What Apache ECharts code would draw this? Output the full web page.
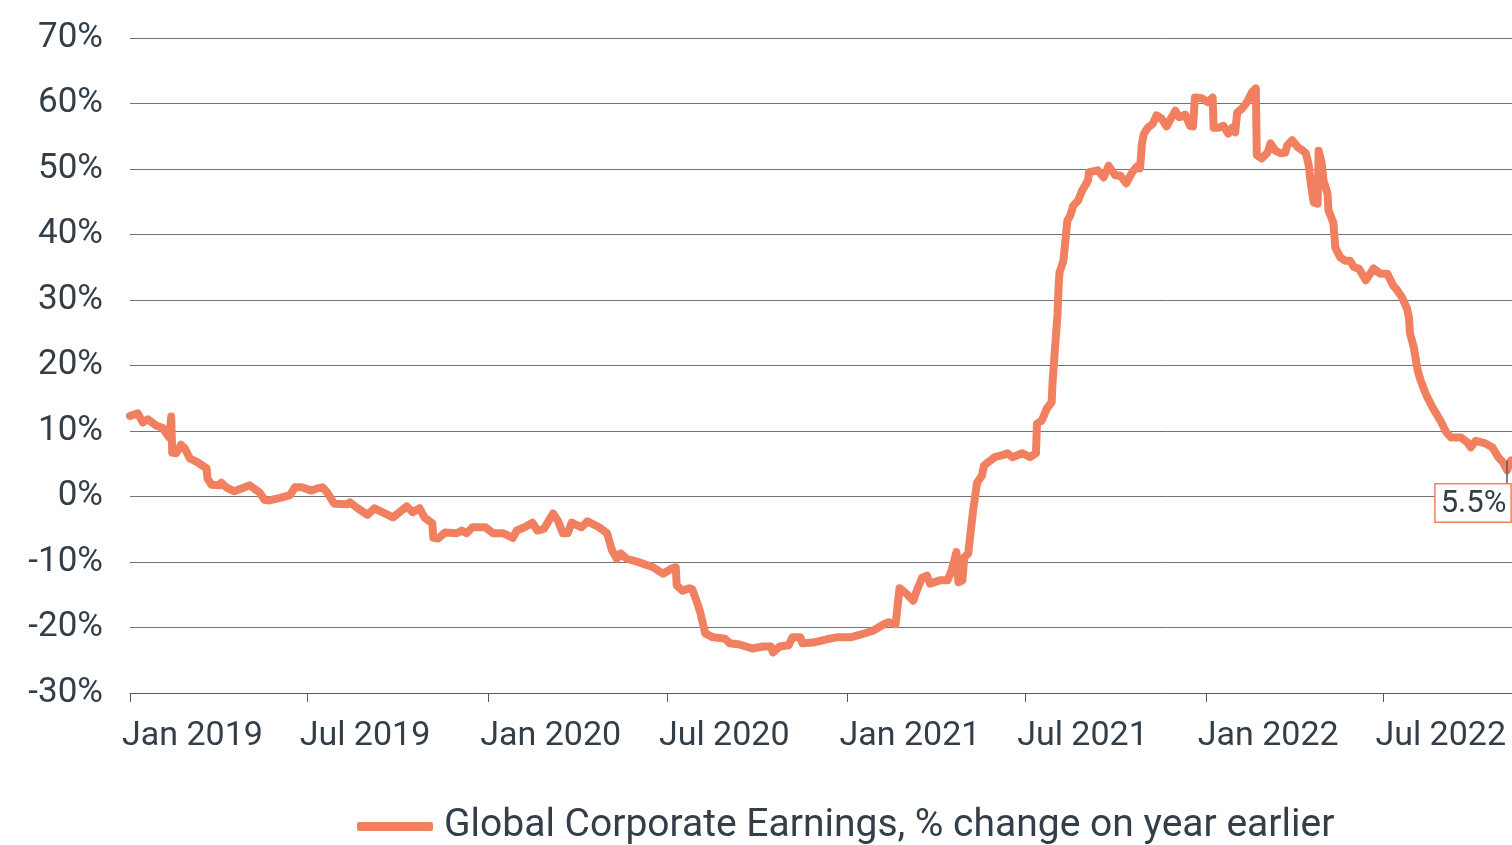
<!DOCTYPE html>
<html>
<head>
<meta charset="utf-8">
<title>Global Corporate Earnings</title>
<script src="https://cdn.jsdelivr.net/npm/echarts@6/dist/echarts.min.js"></script>
<style>
  html, body { margin: 0; padding: 0; background: #fff; }
  #main { width: 1512px; height: 845px; }
</style>
</head>
<body>
<div id="main"></div>
<script>
const seriesName = 'Global Corporate Earnings, % change on year earlier'
const dates = [
  '2019-01-01', '2019-01-03', '2019-01-09', '2019-01-14', '2019-01-19', '2019-01-28', '2019-02-03', '2019-02-07',
  '2019-02-10', '2019-02-12', '2019-02-13', '2019-02-17', '2019-02-22', '2019-02-26', '2019-03-03', '2019-03-11',
  '2019-03-20', '2019-03-21', '2019-03-25', '2019-04-02', '2019-04-04', '2019-04-09', '2019-04-17', '2019-04-24',
  '2019-05-03', '2019-05-13', '2019-05-18', '2019-05-23', '2019-06-03', '2019-06-13', '2019-06-18', '2019-06-25',
  '2019-07-05', '2019-07-10', '2019-07-16', '2019-07-21', '2019-07-28', '2019-08-10', '2019-08-13', '2019-08-20',
  '2019-08-31', '2019-09-07', '2019-09-26', '2019-10-10', '2019-10-16', '2019-10-23', '2019-10-28', '2019-11-05',
  '2019-11-06', '2019-11-11', '2019-11-18', '2019-11-30', '2019-12-05', '2019-12-10', '2019-12-16', '2019-12-29',
  '2020-01-06', '2020-01-16', '2020-01-26', '2020-01-30', '2020-02-07', '2020-02-15', '2020-02-20', '2020-02-27',
  '2020-03-07', '2020-03-12', '2020-03-17', '2020-03-22', '2020-03-26', '2020-04-05', '2020-04-11', '2020-04-23',
  '2020-05-01', '2020-05-06', '2020-05-11', '2020-05-15', '2020-05-21', '2020-06-04', '2020-06-11', '2020-06-17',
  '2020-06-22', '2020-06-27', '2020-07-06', '2020-07-10', '2020-07-11', '2020-07-17', '2020-07-24', '2020-07-27',
  '2020-08-01', '2020-08-04', '2020-08-09', '2020-08-17', '2020-08-29', '2020-09-03', '2020-09-13', '2020-09-26',
  '2020-10-07', '2020-10-15', '2020-10-17', '2020-10-24', '2020-11-02', '2020-11-06', '2020-11-14', '2020-11-16',
  '2020-11-27', '2020-12-11', '2020-12-21', '2021-01-04', '2021-01-14', '2021-01-27', '2021-02-07', '2021-02-12',
  '2021-02-19', '2021-02-23', '2021-03-01', '2021-03-09', '2021-03-13', '2021-03-18', '2021-03-23', '2021-03-26',
  '2021-04-05', '2021-04-13', '2021-04-17', '2021-04-22', '2021-04-24', '2021-04-28', '2021-04-30', '2021-05-04',
  '2021-05-07', '2021-05-09', '2021-05-13', '2021-05-18', '2021-05-20', '2021-05-24', '2021-05-31', '2021-06-08',
  '2021-06-13', '2021-06-18', '2021-06-28', '2021-07-06', '2021-07-12', '2021-07-13', '2021-07-18', '2021-07-23',
  '2021-07-28', '2021-07-29', '2021-08-03', '2021-08-04', '2021-08-05', '2021-08-09', '2021-08-13', '2021-08-16',
  '2021-08-19', '2021-08-24', '2021-08-28', '2021-09-03', '2021-09-04', '2021-09-13', '2021-09-19', '2021-09-24',
  '2021-10-01', '2021-10-06', '2021-10-12', '2021-10-18', '2021-10-23', '2021-10-26', '2021-10-28', '2021-10-30',
  '2021-11-03', '2021-11-08', '2021-11-12', '2021-11-17', '2021-11-22', '2021-12-01', '2021-12-05', '2021-12-11',
  '2021-12-16', '2021-12-19', '2021-12-21', '2021-12-28', '2022-01-03', '2022-01-08', '2022-01-09', '2022-01-14',
  '2022-01-19', '2022-01-24', '2022-01-28', '2022-01-31', '2022-02-02', '2022-02-08', '2022-02-12', '2022-02-17',
  '2022-02-21', '2022-02-22', '2022-02-27', '2022-03-05', '2022-03-08', '2022-03-13', '2022-03-18', '2022-03-23',
  '2022-03-25', '2022-03-30', '2022-04-05', '2022-04-10', '2022-04-13', '2022-04-16', '2022-04-18', '2022-04-21',
  '2022-04-25', '2022-04-26', '2022-04-29', '2022-05-01', '2022-05-05', '2022-05-06', '2022-05-11', '2022-05-13',
  '2022-05-18', '2022-05-23', '2022-05-28', '2022-06-01', '2022-06-06', '2022-06-13', '2022-06-21', '2022-06-28',
  '2022-07-05', '2022-07-11', '2022-07-15', '2022-07-20', '2022-07-25', '2022-07-27', '2022-07-28', '2022-08-01',
  '2022-08-05', '2022-08-08', '2022-08-13', '2022-08-20', '2022-08-28', '2022-09-03', '2022-09-08', '2022-09-18',
  '2022-09-25', '2022-09-28', '2022-10-03', '2022-10-13', '2022-10-20', '2022-10-26', '2022-10-31', '2022-11-04',
  '2022-11-08'
]
const values = [
  12.3, 12.0, 12.7, 11.3, 11.8, 10.8, 10.5, 9.6,
  9.0, 12.2, 6.7, 6.6, 7.9, 7.3, 5.8, 5.2,
  4.3, 2.7, 1.8, 1.7, 2.1, 1.4, 0.8, 1.2,
  1.7, 0.6, -0.5, -0.6, -0.2, 0.2, 1.4, 1.4,
  0.9, 1.2, 1.4, 0.6, -1.1, -1.2, -0.9, -1.7,
  -2.8, -1.8, -3.2, -1.5, -2.4, -1.8, -3.2, -4.1,
  -6.3, -6.4, -5.5, -5.6, -5.2, -5.6, -4.7, -4.7,
  -5.6, -5.6, -6.3, -5.2, -4.7, -4.0, -5.2, -4.9,
  -2.6, -3.7, -5.6, -5.6, -4.0, -4.7, -3.8, -4.7,
  -5.6, -8.2, -9.5, -8.7, -9.5, -10.1, -10.5, -10.8,
  -11.3, -11.8, -11.0, -10.8, -13.6, -14.4, -14.0, -14.2,
  -16.3, -17.7, -20.9, -21.5, -21.7, -22.4, -22.6, -23.2,
  -22.9, -22.9, -23.8, -22.9, -22.7, -21.5, -21.5, -22.4,
  -22.3, -21.8, -21.5, -21.5, -21.1, -20.5, -19.5, -19.2,
  -19.5, -14.0, -14.7, -15.9, -14.2, -12.4, -12.1, -13.3,
  -12.8, -12.8, -11.3, -8.5, -13.1, -12.8, -9.3, -8.7,
  -4.7, -2.1, 2.1, 3.2, 4.7, 5.2, 6.0, 6.3,
  6.6, 6.0, 6.6, 6.0, 6.6, 11.1, 11.6, 13.4,
  14.4, 17.7, 27.9, 31.9, 34.2, 36.0, 42.1, 42.9,
  44.4, 45.2, 46.7, 48.2, 49.5, 49.8, 48.7, 50.5,
  49.0, 49.0, 47.8, 49.5, 50.4, 50.1, 53.9, 55.4,
  56.3, 56.9, 58.2, 57.7, 56.5, 58.9, 57.9, 58.3,
  56.6, 56.5, 60.9, 60.8, 60.2, 60.9, 56.3, 56.3,
  56.6, 55.4, 56.3, 55.6, 58.6, 59.4, 60.2, 61.7,
  62.3, 52.1, 51.6, 52.5, 53.9, 52.8, 52.4, 52.5,
  53.6, 54.4, 53.3, 52.8, 52.4, 50.5, 47.8, 44.9,
  44.7, 52.8, 51.0, 48.2, 46.3, 43.7, 41.8, 38.0,
  36.5, 36.0, 36.0, 35.0, 34.8, 33.0, 34.8, 34.0,
  34.0, 32.2, 31.5, 30.4, 28.7, 27.3, 25.0, 22.7,
  19.2, 17.7, 15.7, 13.6, 11.6, 9.8, 9.0, 9.0,
  8.2, 7.5, 8.5, 8.1, 7.5, 6.0, 5.2, 4.0,
  5.5
]
const tickDates = ['2019-01-01', '2019-07-01', '2020-01-01', '2020-07-01', '2021-01-01', '2021-07-01', '2022-01-01', '2022-07-01']
const tickLabels = ['Jan 2019', 'Jul 2019', 'Jan 2020', 'Jul 2020', 'Jan 2021', 'Jul 2021', 'Jan 2022', 'Jul 2022']
const lastLabel = '5.5%'

const textColor = '#333e48'
const lineColor = '#f0805f'
const fontFamily = 'Roboto, sans-serif'

// dates -> ms, plotted on a plain value axis so tick positions can be given directly
const toTime = s => {
  const p = s.split('-').map(Number)
  return Date.UTC(p[0], p[1] - 1, p[2])
}
const tickTimes = tickDates.map(toTime)

const myChart = echarts.init(document.getElementById('main'))
const option = {
  animation: false,
  textStyle: { fontFamily: fontFamily },
  grid: {
    left: 130,
    right: 0,
    top: 38,
    bottom: 152,
    containLabel: false,
    outerBoundsMode: 'none'
  },
  legend: {
    data: [seriesName],
    left: 352,
    top: 802,
    icon: 'roundRect',
    itemWidth: 76,
    itemHeight: 9,
    itemStyle: { color: lineColor },
    textStyle: {
      fontSize: 39,
      color: textColor,
      fontFamily: fontFamily,
      padding: [0, 0, 0, 6]
    }
  },
  xAxis: {
    type: 'value',
    min: toTime('2019-01-01'),
    max: toTime('2022-11-09'),
    axisLine: { show: true, onZero: false, lineStyle: { color: '#555b61', width: 1 } },
    axisTick: {
      show: true,
      customValues: tickTimes,
      length: 9,
      lineStyle: { color: '#555b61' }
    },
    axisLabel: {
      customValues: tickTimes,
      showMinLabel: true,
      showMaxLabel: true,
      align: 'left',
      margin: 26,
      fontSize: 34,
      color: textColor,
      padding: [0, 0, 0, -8],
      formatter: function (value) {
        let best = 0
        tickTimes.forEach((t, i) => {
          if (Math.abs(t - value) < Math.abs(tickTimes[best] - value)) best = i
        })
        return tickLabels[best]
      }
    },
    splitLine: { show: false }
  },
  yAxis: {
    type: 'value',
    min: -30,
    max: 70,
    interval: 10,
    axisLine: { show: false },
    axisTick: { show: false },
    axisLabel: {
      margin: 27,
      fontSize: 35,
      color: textColor,
      formatter: '{value}%'
    },
    splitLine: { lineStyle: { color: '#6f7478', width: 1 } }
  },
  series: [
    {
      name: seriesName,
      type: 'line',
      showSymbol: false,
      symbol: 'none',
      data: dates.map((d, i) => [toTime(d), values[i]]),
      lineStyle: { color: lineColor, width: 8, cap: 'round', join: 'round' },
      itemStyle: { color: lineColor },
      markPoint: {
        symbol: 'rect',
        symbolSize: [1.5, 24],
        symbolOffset: [-4, 12],
        itemStyle: { color: '#555b61' },
        label: {
          show: true,
          position: 'bottom',
          distance: 0,
          offset: [-34, 0],
          formatter: lastLabel,
          fontSize: 31,
          color: textColor,
          backgroundColor: '#fff',
          borderColor: lineColor,
          borderWidth: 1.5,
          padding: [4, 4, 2, 5]
        },
        data: [{ coord: [toTime(dates[dates.length - 1]), values[values.length - 1]] }]
      }
    }
  ]
}
myChart.setOption(option)
</script>
</body>
</html>
